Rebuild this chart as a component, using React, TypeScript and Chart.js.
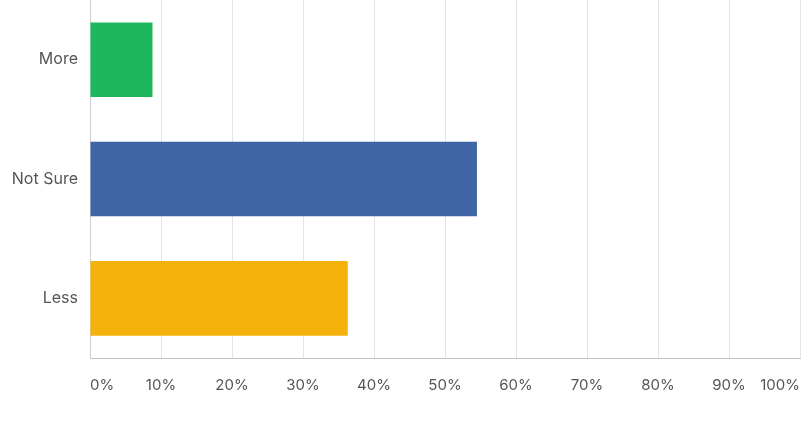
import React, { useEffect, useRef } from "react";
import { Chart, registerables } from "chart.js";

Chart.register(...registerables);

const categories = ["More", "Not Sure", "Less"];
const values = [8.8, 54.5, 36.3];
const barColors = ["#1db75e", "#3f65a5", "#f4b00b"];
const tickValues = [0, 10, 20, 30, 40, 50, 60, 70, 80, 90, 100];

export default function App() {
  const ref = useRef<HTMLCanvasElement | null>(null);

  useEffect(() => {
    document.body.style.margin = "0";
    const canvas = ref.current;
    if (!canvas) return;
    const chart = new Chart(canvas, {
      type: "bar",
      data: {
        labels: categories,
        datasets: [
          {
            data: values,
            backgroundColor: barColors,
            borderWidth: 0,
            barPercentage: 0.625,
            categoryPercentage: 1,
          },
        ],
      },
      options: {
        indexAxis: "y",
        animation: false,
        responsive: false,
        maintainAspectRatio: false,
        devicePixelRatio: 1,
        layout: { padding: { top: 0, right: 1, left: 0, bottom: 0 } },
        plugins: { legend: { display: false }, tooltip: { enabled: false } },
        scales: {
          x: {
            min: 0,
            max: 100,
            afterBuildTicks: (axis: any) => {
              axis.ticks = tickValues.map((v) => ({ value: v }));
            },
            afterFit: (axis: any) => {
              axis.height = 64;
              axis.paddingLeft = 0;
              axis.paddingRight = 0;
              axis.paddingTop = 0;
              axis.paddingBottom = 0;
            },
            grid: {
              color: "#e4e4e4",
              drawTicks: false,
              lineWidth: 1,
            },
            border: { display: true, color: "#c4c4c4", width: 1 },
            ticks: {
              align: "inner",
              padding: 18,
              maxRotation: 0,
              autoSkip: false,
              color: "#555555",
              font: { family: "Inter", size: 15 },
              callback: (v: any) => `${v}%`,
            },
          },
          y: {
            afterFit: (axis: any) => {
              axis.width = 90;
              axis.paddingLeft = 0;
              axis.paddingRight = 0;
              axis.paddingTop = 0;
              axis.paddingBottom = 0;
            },
            grid: { display: false, drawTicks: false },
            border: { display: true, color: "#d0d0d0", width: 1 },
            ticks: {
              padding: 12,
              color: "#555555",
              font: { family: "Inter", size: 16 },
            },
          },
        },
      },
    });
    return () => chart.destroy();
  }, []);

  return (
    <div style={{ width: 801, height: 422, background: "#ffffff" }}>
      <canvas ref={ref} width={801} height={422} style={{ display: "block" }} />
    </div>
  );
}
